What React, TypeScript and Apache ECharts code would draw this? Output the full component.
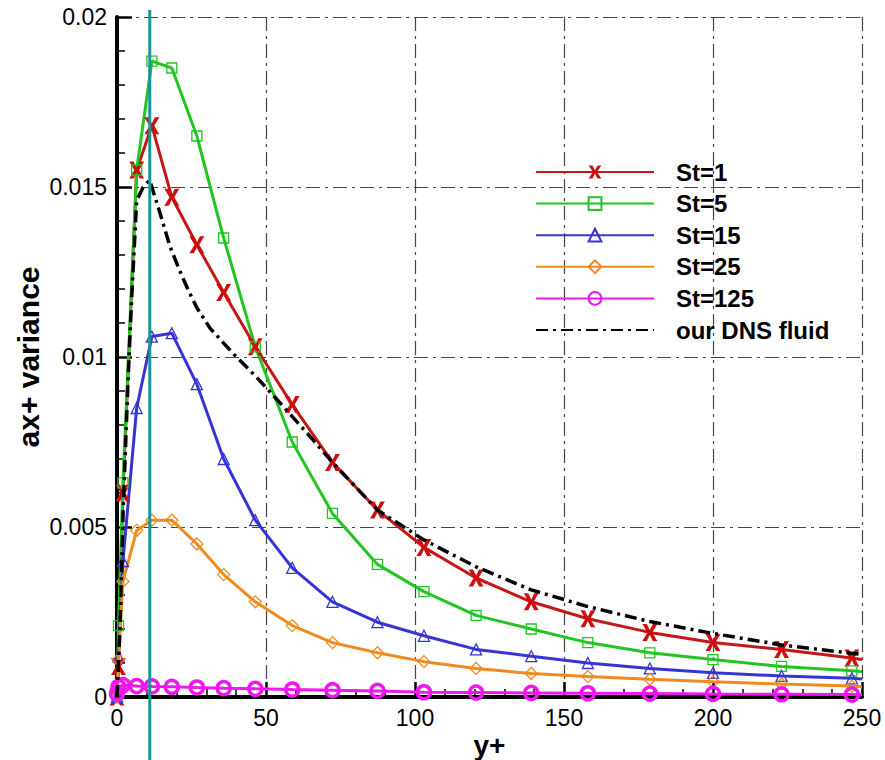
import React, { useEffect, useRef } from "react";
import * as echarts from "echarts";

// y+ grid shared by the particle series (last point: line end, no marker)
const yPlus = [0, 0.5, 2, 6.6, 11.7, 18.4, 26.8, 35.8, 46.4, 58.8, 72.3, 87.4, 103, 120.5, 139, 158, 178.8, 200, 223, 246.6, 250];
const st1 = [0, 0.0009, 0.006, 0.0155, 0.0168, 0.0147, 0.0133, 0.0119, 0.0103, 0.0086, 0.0069, 0.0055, 0.0044, 0.0035, 0.0028, 0.0023, 0.0019, 0.0016, 0.0014, 0.00115, 0.0011];
const st5 = [0, 0.0021, 0.0063, 0.0155, 0.0187, 0.0185, 0.0165, 0.0135, 0.0103, 0.0075, 0.0054, 0.0039, 0.0031, 0.0024, 0.002, 0.0016, 0.0013, 0.0011, 0.0009, 0.00077, 0.00075];
const st15 = [0, 0.0012, 0.004, 0.0085, 0.0106, 0.0107, 0.0092, 0.007, 0.0052, 0.0038, 0.0028, 0.0022, 0.0018, 0.0014, 0.0012, 0.001, 0.00084, 0.00071, 0.00062, 0.00055, 0.00053];
const st25 = [0, 0.0011, 0.0034, 0.0049, 0.0052, 0.0052, 0.0045, 0.0036, 0.0028, 0.0021, 0.0016, 0.0013, 0.00104, 0.00084, 0.00069, 0.0006, 0.00052, 0.00045, 0.00038, 0.00032, 0.0003];
const st125 = [0.0001, 0.0003, 0.00035, 0.00032, 0.00031, 0.0003, 0.00028, 0.00026, 0.00024, 0.00022, 0.0002, 0.00018, 0.00014, 0.00013, 0.00012, 0.00011, 0.0001, 0.00009, 0.00008, 0.00007, 0.00006];

// DNS fluid curve
const dnsX = [0, 1, 2.1, 3.8, 4.9, 6.6, 8.8, 11, 14.4, 17.8, 21, 24, 26.8, 31.2, 39, 46.9, 56.9, 65.8, 72.3, 87.4, 103, 120.5, 139, 158, 178.8, 200, 223, 250];
const dnsY = [0, 0.002, 0.0056, 0.0095, 0.0117, 0.0146, 0.0150, 0.0152, 0.01424, 0.01325, 0.01255, 0.01195, 0.01145, 0.01085, 0.0101, 0.0094, 0.00844, 0.00756, 0.0069, 0.0055, 0.00462, 0.00383, 0.00315, 0.00266, 0.00222, 0.00187, 0.00153, 0.00125];

const seriesNames = ["St=1", "St=5", "St=15", "St=25", "St=125", "our DNS fluid"];
const markerYPlus = 11;

const FONT = "Liberation Sans, Arial, sans-serif";
const GRID_DASH = [14, 5, 3, 5];

const xSymbol = "path://M0,0 L3,0 L5,3.6 L7,0 L10,0 L6.6,5 L10,10 L7,10 L5,6.4 L3,10 L0,10 L3.4,5 Z";

function build(vals: number[]) {
  const last = yPlus.length - 1;
  return yPlus.map((x, i) => (i === last ? { value: [x, vals[i]], symbol: "none" } : [x, vals[i]]));
}

export default function App() {
  const ref = useRef<HTMLDivElement>(null);
  useEffect(() => {
    if (!ref.current) return;
    const chart = echarts.init(ref.current, undefined, { renderer: "svg" });
    const mk = (name: string, vals: number[], color: string, symbol: string, size: any, fill: string, bw: number) => ({
      name,
      type: "line",
      data: build(vals),
      symbol,
      symbolSize: size,
      showAllSymbol: true,
      lineStyle: { color, width: 3 },
      itemStyle: { color: fill, borderColor: color, borderWidth: bw },
      emphasis: { disabled: true },
      z: 3,
    });
    const option: any = {
      animation: false,
      backgroundColor: "#ffffff",
      grid: { left: 117, right: 23, top: 17, bottom: 63, containLabel: false, outerBoundsMode: "none" },
      legend: {
        orient: "vertical",
        left: 530,
        top: 155,
        itemWidth: 118,
        itemHeight: 16,
        itemGap: 7.6,
        data: [
          ...seriesNames.slice(0, 5),
          { name: seriesNames[5], itemStyle: { color: "rgba(0,0,0,0)", borderColor: "rgba(0,0,0,0)", borderWidth: 0 } },
        ],
        textStyle: { fontFamily: FONT, fontSize: 24, fontWeight: "bold", color: "#000", lineHeight: 24, padding: [0, 0, 0, 17] },
        selectedMode: false,
      },
      xAxis: {
        type: "value",
        min: 0,
        max: 250,
        interval: 50,
        name: "y+",
        nameLocation: "middle",
        nameGap: 34,
        nameMoveOverlap: false,
        nameTextStyle: { fontFamily: FONT, fontSize: 28, fontWeight: "bold", color: "#000", lineHeight: 28 },
        axisLine: { show: true, onZero: false, lineStyle: { color: "#000", width: 4 } },
        axisTick: { show: true, inside: true, length: 15, lineStyle: { color: "#000", width: 2.5 } },
        minorTick: { show: true, splitNumber: 5, length: 8, lineStyle: { color: "#000", width: 1.5 } },
        axisLabel: { fontFamily: FONT, fontSize: 23, color: "#000", margin: 9 },
        splitLine: { show: true, lineStyle: { color: "#444", width: 1.2, type: GRID_DASH } },
      },
      yAxis: {
        type: "value",
        min: 0,
        max: 0.02,
        interval: 0.005,
        name: "ax+ variance",
        nameLocation: "middle",
        nameGap: 74,
        nameMoveOverlap: false,
        nameTextStyle: { fontFamily: FONT, fontSize: 30, fontWeight: "bold", color: "#000" },
        axisLine: { show: true, onZero: false, lineStyle: { color: "#000", width: 4 } },
        axisTick: { show: true, inside: true, length: 15, lineStyle: { color: "#000", width: 2.5 } },
        minorTick: { show: true, splitNumber: 5, length: 8, lineStyle: { color: "#000", width: 1.5 } },
        axisLabel: {
          fontFamily: FONT,
          fontSize: 23,
          color: "#000",
          margin: 10,
          formatter: (v: number) => String(+v.toFixed(3)),
        },
        splitLine: { show: true, lineStyle: { color: "#444", width: 1.2, type: GRID_DASH } },
      },
      series: [
        mk(seriesNames[0], st1, "#c41818", xSymbol, [15, 17], "#cc1010", 0),
        mk(seriesNames[1], st5, "#22c522", "rect", 10, "rgba(255,255,255,0)", 1.3),
        mk(seriesNames[2], st15, "#3535d5", "triangle", 11, "rgba(255,255,255,0)", 1.3),
        mk(seriesNames[3], st25, "#f08a1e", "diamond", 12, "rgba(255,255,255,0)", 1.3),
        mk(seriesNames[4], st125, "#ec18ec", "circle", 13, "rgba(255,255,255,0)", 3.5),
        {
          name: seriesNames[5],
          type: "line",
          data: dnsX.map((x, i) => [x, dnsY[i]]),
          symbol: "none",
          lineStyle: { color: "#000", width: 3.5, type: [12, 5, 3, 5] },
          itemStyle: { color: "#000" },
          emphasis: { disabled: true },
          z: 4,
        },
      ],
    };
    chart.setOption(option);
    const px = chart.convertToPixel({ xAxisIndex: 0 }, markerYPlus) as number;
    chart.setOption({
      graphic: [
        {
          type: "line",
          z: 100,
          shape: { x1: px, y1: 10, x2: px, y2: 760 },
          style: { stroke: "#1b9595", lineWidth: 3 },
        },
      ],
    });
    return () => chart.dispose();
  }, []);
  return <div ref={ref} style={{ position: "fixed", left: 0, top: 0, width: 885, height: 760 }} />;
}
